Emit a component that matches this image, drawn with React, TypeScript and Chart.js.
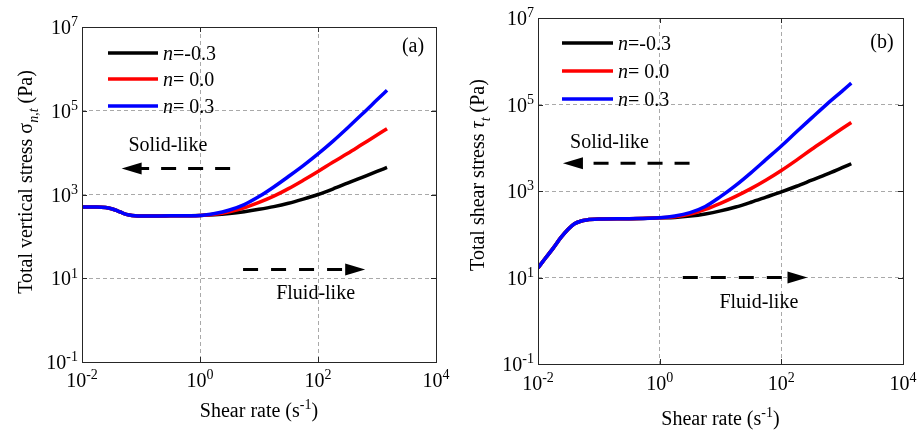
import React, { useEffect, useRef } from "react";
import { Chart, registerables } from "chart.js";
Chart.register(...registerables);

// ---------- DATA ----------
// Panel (a): total vertical stress vs shear rate
const shearRateA = [0.01, 0.0178, 0.0251, 0.0316, 0.0398, 0.0501, 0.0631, 0.0794, 0.1, 0.316, 1, 1.78, 3.16, 5.62, 10, 17.8, 31.6, 56.2, 100, 178, 316, 562, 1000, 1479];
const sigmaNeg03 = [501, 501, 490, 457, 407, 355, 324, 309, 305, 309, 316, 327, 351, 389, 442, 513, 617, 776, 1000, 1349, 1862, 2570, 3548, 4416];
const sigma00 = [501, 501, 490, 457, 407, 355, 324, 309, 305, 309, 316, 339, 389, 479, 646, 912, 1380, 2188, 3548, 5888, 9550, 15849, 26303, 37154];
const sigma03 = [501, 501, 490, 457, 407, 355, 324, 309, 305, 309, 316, 351, 427, 575, 891, 1514, 2692, 4898, 9333, 18621, 38905, 83176, 181970, 309030];

// Panel (b): total shear stress vs shear rate
const shearRateB = [0.01, 0.0133, 0.0178, 0.0237, 0.0316, 0.0398, 0.0501, 0.0631, 0.1, 0.316, 1, 1.78, 3.16, 5.62, 10, 17.8, 31.6, 56.2, 100, 178, 316, 562, 1000, 1413];
const tauNeg03 = [16.6, 28.2, 47.9, 83.2, 132, 174, 200, 214, 224, 229, 240, 245, 263, 295, 347, 427, 550, 724, 955, 1288, 1778, 2455, 3467, 4266];
const tau00 = [16.6, 28.2, 47.9, 83.2, 132, 174, 200, 214, 224, 229, 240, 254, 292, 376, 519, 750, 1135, 1799, 2985, 5188, 9226, 16032, 27861, 38459];
const tau03 = [16.6, 28.2, 47.9, 83.2, 132, 174, 200, 214, 224, 229, 240, 263, 316, 437, 741, 1349, 2630, 5370, 10965, 23442, 48978, 102329, 204174, 312608];

const nLabels = ["=-0.3", "= 0.0", "= 0.3"];
const seriesColors = ["#000000", "#ff0000", "#0000ff"];
const xTickValues = [0.01, 1, 100, 10000];
const xTickExps = ["-2", "0", "2", "4"];
const yTickValues = [0.1, 10, 1000, 100000, 10000000];
const yTickExps = ["-1", "1", "3", "5", "7"];

const SERIF = '"Liberation Serif", "Times New Roman", serif';

type Seg = { t: string; italic?: boolean; sub?: boolean; sup?: boolean };

function drawSegs(ctx: CanvasRenderingContext2D, segs: Seg[], x: number, y: number, size: number, align: "left" | "center" | "right") {
  const small = Math.round(size * 0.7);
  const fontFor = (s: Seg) => `${s.italic ? "italic " : ""}${s.sub || s.sup ? small : size}px ${SERIF}`;
  let total = 0;
  const widths = segs.map((s) => {
    ctx.font = fontFor(s);
    const w = ctx.measureText(s.t).width;
    total += w;
    return w;
  });
  let cx = align === "left" ? x : align === "center" ? x - total / 2 : x - total;
  ctx.textAlign = "left";
  ctx.textBaseline = "alphabetic";
  segs.forEach((s, i) => {
    ctx.font = fontFor(s);
    const dy = s.sub ? size * 0.3 : s.sup ? -size * 0.38 : 0;
    ctx.fillText(s.t, cx, y + dy);
    cx += widths[i];
  });
}

function drawArrow(ctx: CanvasRenderingContext2D, x1: number, x2: number, y: number, dash: number[]) {
  const dir = Math.sign(x2 - x1);
  const headLen = 20;
  const headHalf = 6;
  const baseX = x2 - dir * headLen;
  ctx.save();
  ctx.strokeStyle = "#000";
  ctx.fillStyle = "#000";
  ctx.lineWidth = 3;
  ctx.setLineDash(dash);
  ctx.beginPath();
  ctx.moveTo(x1, y);
  ctx.lineTo(baseX + dir * 2, y);
  ctx.stroke();
  ctx.setLineDash([]);
  ctx.beginPath();
  ctx.moveTo(x2, y);
  ctx.lineTo(baseX, y - headHalf);
  ctx.lineTo(baseX, y + headHalf);
  ctx.closePath();
  ctx.fill();
  ctx.restore();
}

type PanelCfg = {
  left: number;
  width: number;
  area: { l: number; r: number; t: number; b: number };
  xs: number[];
  series: number[][];
  yTitle: Seg[];
  yTitlePos: { x: number; y: number };
  xTitleY: number;
  xTickY: number;
  letter: string;
  letterPos: { dx: number; dy: number };
  legend: { dx1: number; dx2: number; dys: number[] };
  solid: { x1: number; x2: number; y: number; tx: number; ty: number };
  fluid: { x1: number; x2: number; y: number; tx: number; ty: number };
};

const H = 433;

const panelA: PanelCfg = {
  left: 0,
  width: 460,
  area: { l: 82, r: 436, t: 27, b: 362 },
  xs: shearRateA,
  series: [sigma03, sigma00, sigmaNeg03],
  yTitle: [{ t: "Total vertical stress σ" }, { t: "n,t", italic: true, sub: true }, { t: " (Pa)" }],
  yTitlePos: { x: 25, y: 182 },
  xTitleY: 410,
  xTickY: 380,
  letter: "(a)",
  letterPos: { dx: -23, dy: 20 },
  legend: { dx1: 26, dx2: 76, dys: [26, 52, 79] },
  solid: { x1: 3.24, x2: 0.047, y: 4170, tx: 0.285, ty: 16200 },
  fluid: { x1: 5.37, x2: 630, y: 16.2, tx: 91, ty: 4.6 },
};

const panelB: PanelCfg = {
  left: 460,
  width: 461,
  area: { l: 78, r: 443, t: 18, b: 364 },
  xs: shearRateB,
  series: [tau03, tau00, tauNeg03],
  yTitle: [{ t: "Total shear stress " }, { t: "τ", italic: true }, { t: "t", italic: true, sub: true }, { t: " (Pa)" }],
  yTitlePos: { x: 17, y: 175 },
  xTitleY: 418,
  xTickY: 383,
  letter: "(b)",
  letterPos: { dx: -21, dy: 25 },
  legend: { dx1: 24, dx2: 75, dys: [25, 53, 81] },
  solid: { x1: 3.1, x2: 0.0257, y: 4360, tx: 0.15, ty: 14700 },
  fluid: { x1: 2.4, x2: 269, y: 10, tx: 42.7, ty: 2.8 },
};

function Panel({ cfg }: { cfg: PanelCfg }) {
  const ref = useRef<HTMLCanvasElement>(null);
  useEffect(() => {
    const canvas = ref.current;
    if (!canvas) return;
    const a = cfg.area;
    const colorsInDrawOrder = [seriesColors[2], seriesColors[1], seriesColors[0]];
    const overlay = {
      id: "overlay",
      afterDraw(chart: any) {
        const ctx: CanvasRenderingContext2D = chart.ctx;
        const xs = chart.scales.x;
        const ys = chart.scales.y;
        const ca = chart.chartArea;
        ctx.save();
        // box
        ctx.strokeStyle = "#262626";
        ctx.lineWidth = 1;
        ctx.setLineDash([]);
        ctx.strokeRect(Math.round(ca.left) + 0.5, Math.round(ca.top) + 0.5, Math.round(ca.right - ca.left), Math.round(ca.bottom - ca.top));
        // tick marks
        ctx.beginPath();
        xTickValues.forEach((v) => {
          const px = Math.round(xs.getPixelForValue(v)) + 0.5;
          ctx.moveTo(px, ca.bottom);
          ctx.lineTo(px, ca.bottom - 5);
          ctx.moveTo(px, ca.top);
          ctx.lineTo(px, ca.top + 5);
        });
        yTickValues.forEach((v) => {
          const py = Math.round(ys.getPixelForValue(v)) + 0.5;
          ctx.moveTo(ca.left, py);
          ctx.lineTo(ca.left + 5, py);
          ctx.moveTo(ca.right, py);
          ctx.lineTo(ca.right - 5, py);
        });
        ctx.stroke();
        ctx.fillStyle = "#000";
        // tick labels
        xTickValues.forEach((v, i) => {
          const px = xs.getPixelForValue(v);
          drawSegs(ctx, [{ t: "10" }, { t: xTickExps[i], sup: true }], px, cfg.xTickY + 7, 20, "center");
        });
        yTickValues.forEach((v, i) => {
          const py = ys.getPixelForValue(v);
          drawSegs(ctx, [{ t: "10" }, { t: yTickExps[i], sup: true }], ca.left - 4, py + 7, 20, "right");
        });
        // axis titles
        drawSegs(ctx, [{ t: "Shear rate (s" }, { t: "-1", sup: true }, { t: ")" }], (ca.left + ca.right) / 2, cfg.xTitleY + 7, 20, "center");
        ctx.save();
        ctx.translate(cfg.yTitlePos.x, cfg.yTitlePos.y);
        ctx.rotate(-Math.PI / 2);
        drawSegs(ctx, cfg.yTitle, 0, 7, 20, "center");
        ctx.restore();
        // legend
        seriesColors.forEach((c, i) => {
          const y = ca.top + cfg.legend.dys[i];
          ctx.strokeStyle = c;
          ctx.lineWidth = 3.5;
          ctx.beginPath();
          ctx.moveTo(ca.left + cfg.legend.dx1, y);
          ctx.lineTo(ca.left + cfg.legend.dx2, y);
          ctx.stroke();
          ctx.fillStyle = "#000";
          drawSegs(ctx, [{ t: "n", italic: true }, { t: nLabels[i] }], ca.left + cfg.legend.dx2 + 5, y + 7, 20, "left");
        });
        // panel letter
        drawSegs(ctx, [{ t: cfg.letter }], ca.right + cfg.letterPos.dx, ca.top + cfg.letterPos.dy + 5, 20, "center");
        // arrows + texts
        const s = cfg.solid;
        drawArrow(ctx, xs.getPixelForValue(s.x1), xs.getPixelForValue(s.x2), ys.getPixelForValue(s.y), [15, 12]);
        drawSegs(ctx, [{ t: "Solid-like" }], xs.getPixelForValue(s.tx), ys.getPixelForValue(s.ty) + 7, 20, "center");
        const f = cfg.fluid;
        drawArrow(ctx, xs.getPixelForValue(f.x1), xs.getPixelForValue(f.x2), ys.getPixelForValue(f.y), [15, 13]);
        drawSegs(ctx, [{ t: "Fluid-like" }], xs.getPixelForValue(f.tx), ys.getPixelForValue(f.ty) + 7, 20, "center");
        ctx.restore();
      },
    };
    const chart = new Chart(canvas, {
      type: "line",
      data: {
        datasets: cfg.series.map((s, i) => ({
          data: cfg.xs.map((x, j) => ({ x, y: s[j] })),
          borderColor: colorsInDrawOrder[i],
          backgroundColor: colorsInDrawOrder[i],
          borderWidth: 3.5,
          pointRadius: 0,
          cubicInterpolationMode: "monotone" as const,
          fill: false,
        })),
      },
      options: {
        responsive: false,
        animation: false,
        events: [],
        layout: { padding: { left: a.l, right: cfg.width - a.r, top: a.t, bottom: H - a.b } },
        plugins: { legend: { display: false }, tooltip: { enabled: false }, title: { display: false } },
        scales: {
          x: {
            type: "logarithmic",
            min: 0.01,
            max: 10000,
            afterBuildTicks: (ax: any) => {
              ax.ticks = xTickValues.map((v) => ({ value: v }));
            },
            ticks: { display: false },
            grid: { color: "#a9a9a9", lineWidth: 1, drawTicks: false },
            border: { display: false, dash: [4, 3] },
          },
          y: {
            type: "logarithmic",
            min: 0.1,
            max: 10000000,
            afterBuildTicks: (ax: any) => {
              ax.ticks = yTickValues.map((v) => ({ value: v }));
            },
            ticks: { display: false },
            grid: { color: "#a9a9a9", lineWidth: 1, drawTicks: false },
            border: { display: false, dash: [4, 3] },
          },
        },
      } as any,
      plugins: [overlay],
    });
    return () => chart.destroy();
  }, [cfg]);
  return (
    <canvas
      ref={ref}
      width={cfg.width}
      height={H}
      style={{ position: "absolute", left: cfg.left, top: 0, width: cfg.width, height: H }}
    />
  );
}

export default function App() {
  return (
    <div style={{ position: "fixed", left: 0, top: 0, width: 921, height: H, background: "#fff", overflow: "hidden" }}>
      <Panel cfg={panelA} />
      <Panel cfg={panelB} />
    </div>
  );
}
